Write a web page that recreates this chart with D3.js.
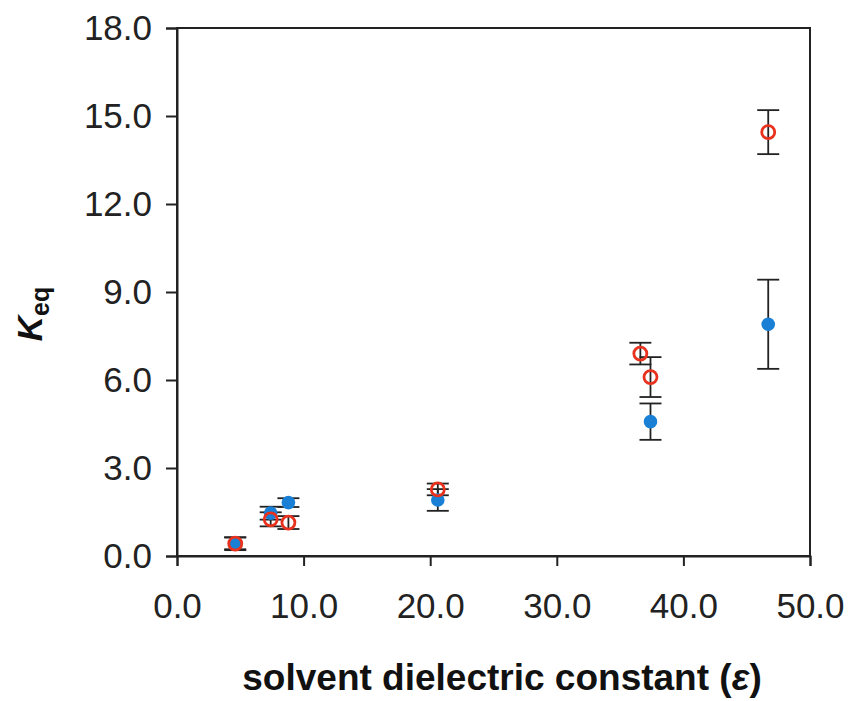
<!DOCTYPE html>
<html>
<head>
<meta charset="utf-8">
<script src="https://cdn.jsdelivr.net/npm/d3@7"></script>
<style>
  body { margin: 0; background: #fff; }
  svg text { font-family: "Liberation Sans", Arial, sans-serif; }
</style>
</head>
<body>
<div id="chart"></div>
<script>
// solvent dielectric constants (x)
let epsilon = [4.6, 7.4, 8.8, 20.6, 36.6, 37.4, 46.7];

// filled blue series
let blueK   = [0.43, 1.46, 1.82, 1.91, null, 4.58, 7.9];
let blueErr = [0.2, 0.22, 0.15, 0.37, null, 0.62, 1.52];

// open red series
let redK   = [0.42, 1.25, 1.14, 2.27, 6.9, 6.1, 14.45];
let redErr = [0.22, 0.24, 0.22, 0.2, 0.37, 0.68, 0.75];

let xTicks = [0, 10, 20, 30, 40, 50];
let yTicks = [0, 3, 6, 9, 12, 15, 18];

let width = 851, height = 701;
let plotLeft = 177, plotRight = 810, plotTop = 28, plotBottom = 556;

let svg = d3.select("#chart").append("svg")
  .attr("width", width)
  .attr("height", height);

let x = d3.scaleLinear().domain([0, 50]).range([plotLeft, plotRight]);
let y = d3.scaleLinear().domain([0, 18]).range([plotBottom, plotTop]);

// frame
svg.append("rect")
  .attr("x", plotLeft).attr("y", plotTop)
  .attr("width", plotRight - plotLeft).attr("height", plotBottom - plotTop)
  .attr("fill", "none").attr("stroke", "#222").attr("stroke-width", 2);

// axes
let xAxis = svg.append("g")
  .attr("transform", "translate(0," + plotBottom + ")")
  .call(d3.axisBottom(x).tickValues(xTicks).tickFormat(d3.format(".1f")).tickSize(10).tickPadding(27));

let yAxis = svg.append("g")
  .attr("transform", "translate(" + plotLeft + ",0)")
  .call(d3.axisLeft(y).tickValues(yTicks).tickFormat(d3.format(".1f")).tickSize(11).tickPadding(14));

[xAxis, yAxis].forEach(function (g) {
  g.select(".domain").attr("stroke", "#222").attr("stroke-width", 2);
  g.selectAll(".tick line").attr("stroke", "#222").attr("stroke-width", 2);
  g.selectAll(".tick text")
    .attr("fill", "#222")
    .attr("font-size", "35px")
    .style("font-family", "'Liberation Sans', Arial, sans-serif");
});

// build point tables from the arrays
function series(values, errs) {
  let out = [];
  values.forEach(function (v, i) {
    if (v !== null) out.push({ x: epsilon[i], k: v, e: errs[i] });
  });
  return out;
}
let blue = series(blueK, blueErr);
let red = series(redK, redErr);

// error bars
function errorBars(data) {
  let g = svg.append("g").attr("stroke", "#222").attr("stroke-width", 1.8);
  let cap = 11;
  data.forEach(function (d) {
    g.append("line")
      .attr("x1", x(d.x)).attr("x2", x(d.x))
      .attr("y1", y(d.k - d.e)).attr("y2", y(d.k + d.e));
    g.append("line")
      .attr("x1", x(d.x) - cap).attr("x2", x(d.x) + cap)
      .attr("y1", y(d.k + d.e)).attr("y2", y(d.k + d.e));
    g.append("line")
      .attr("x1", x(d.x) - cap).attr("x2", x(d.x) + cap)
      .attr("y1", y(d.k - d.e)).attr("y2", y(d.k - d.e));
  });
}
errorBars(blue);
errorBars(red);

svg.append("g").selectAll("circle").data(blue).enter().append("circle")
  .attr("cx", function (d) { return x(d.x); })
  .attr("cy", function (d) { return y(d.k); })
  .attr("r", 6.8)
  .attr("fill", "#1a80d6");

svg.append("g").selectAll("circle").data(red).enter().append("circle")
  .attr("cx", function (d) { return x(d.x); })
  .attr("cy", function (d) { return y(d.k); })
  .attr("r", 6.5)
  .attr("fill", "none")
  .attr("stroke", "#e8321e")
  .attr("stroke-width", 2.8);

// axis titles
let xTitle = svg.append("text")
  .attr("x", 502)
  .attr("y", 690)
  .attr("text-anchor", "middle")
  .attr("font-size", "37px")
  .attr("font-weight", "bold")
  .attr("fill", "#111");
xTitle.append("tspan").text("solvent dielectric constant (");
xTitle.append("tspan").attr("font-style", "italic").text("ε");
xTitle.append("tspan").text(")");

let yTitle = svg.append("text")
  .attr("transform", "translate(42,314) rotate(-90)")
  .attr("text-anchor", "middle")
  .attr("font-weight", "bold")
  .attr("fill", "#111");
yTitle.append("tspan").attr("font-size", "35px").attr("font-style", "italic").text("K");
yTitle.append("tspan").attr("font-size", "25px").attr("dy", 7).text("eq");
</script>
</body>
</html>
